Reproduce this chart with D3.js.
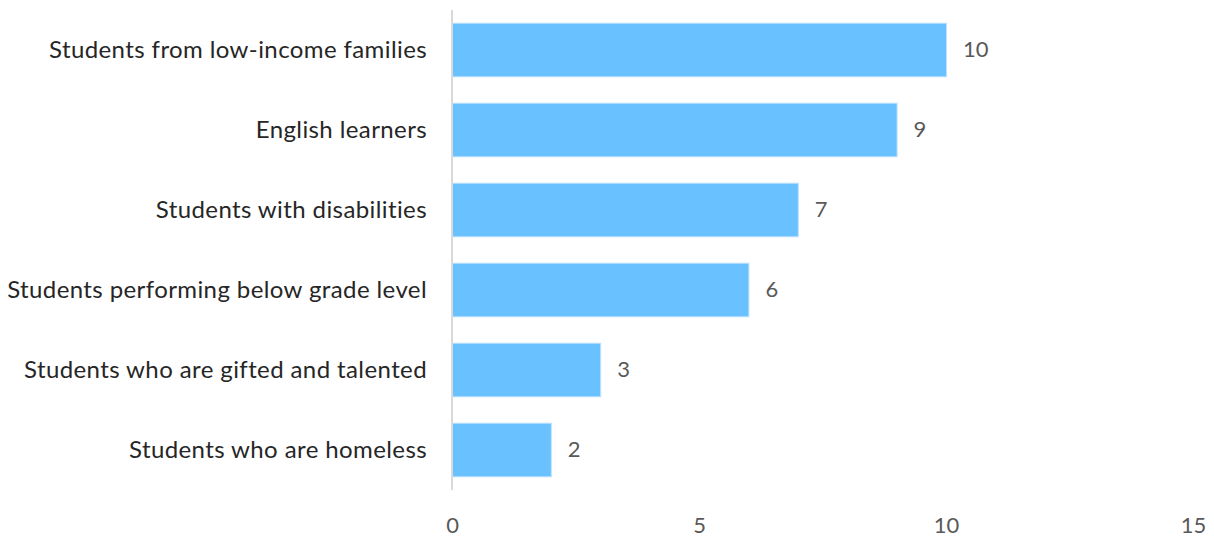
<!DOCTYPE html>
<html><head><meta charset="utf-8">
<script src="https://cdn.jsdelivr.net/npm/d3@7"></script>
<style>
html,body{margin:0;padding:0;background:#fff;}
svg text{font-family:Lato, "Open Sans", sans-serif;}
</style></head>
<body><svg id="c" width="1214" height="538"></svg>
<script>
const categories = ["Students from low-income families","English learners","Students with disabilities","Students performing below grade level","Students who are gifted and talented","Students who are homeless"];
const values = [10,9,7,6,3,2];
const tickValues = [0,5,10,15];

const svg = d3.select("#c");
const x = d3.scaleLinear().domain([0,15]).range([452,1193]);
const y = d3.scaleBand().domain(categories).range([10,490]).paddingInner(0.33).paddingOuter(0.165);

svg.selectAll("rect.bar").data(categories).join("rect")
  .attr("class","bar")
  .attr("x", x(0)+0.5)
  .attr("y", d=>y(d))
  .attr("width", (d,i)=>x(values[i])-x(0))
  .attr("height", y.bandwidth())
  .attr("fill","#69c2ff")
  .attr("stroke","#bde2ff").attr("stroke-width",1);

// y axis line
svg.append("line").attr("x1",x(0)).attr("x2",x(0)).attr("y1",10).attr("y2",490)
  .attr("stroke","#d9d9d9").attr("stroke-width",2);

// category labels
svg.selectAll("text.cat").data(categories).join("text")
  .attr("class","cat")
  .attr("x", 427).attr("y", d=>y(d)+y.bandwidth()/2)
  .attr("dy","8").attr("text-anchor","end")
  .attr("font-size",24).attr("letter-spacing","0.4px").attr("fill","#262626")
  .text(d=>d);

// value labels
svg.selectAll("text.val").data(categories).join("text")
  .attr("class","val")
  .attr("x",(d,i)=>x(values[i])+17).attr("y", d=>y(d)+y.bandwidth()/2)
  .attr("dy","7").attr("font-size",22).attr("fill","#595959")
  .text((d,i)=>values[i]);

// x axis
const xa = svg.append("g").attr("transform","translate(0,517)")
  .call(d3.axisBottom(x).tickValues(tickValues).tickSize(0).tickPadding(0));
xa.select(".domain").remove();
xa.selectAll("text").attr("font-size",22).attr("fill","#595959").attr("font-family","Lato, sans-serif");
</script></body></html>
